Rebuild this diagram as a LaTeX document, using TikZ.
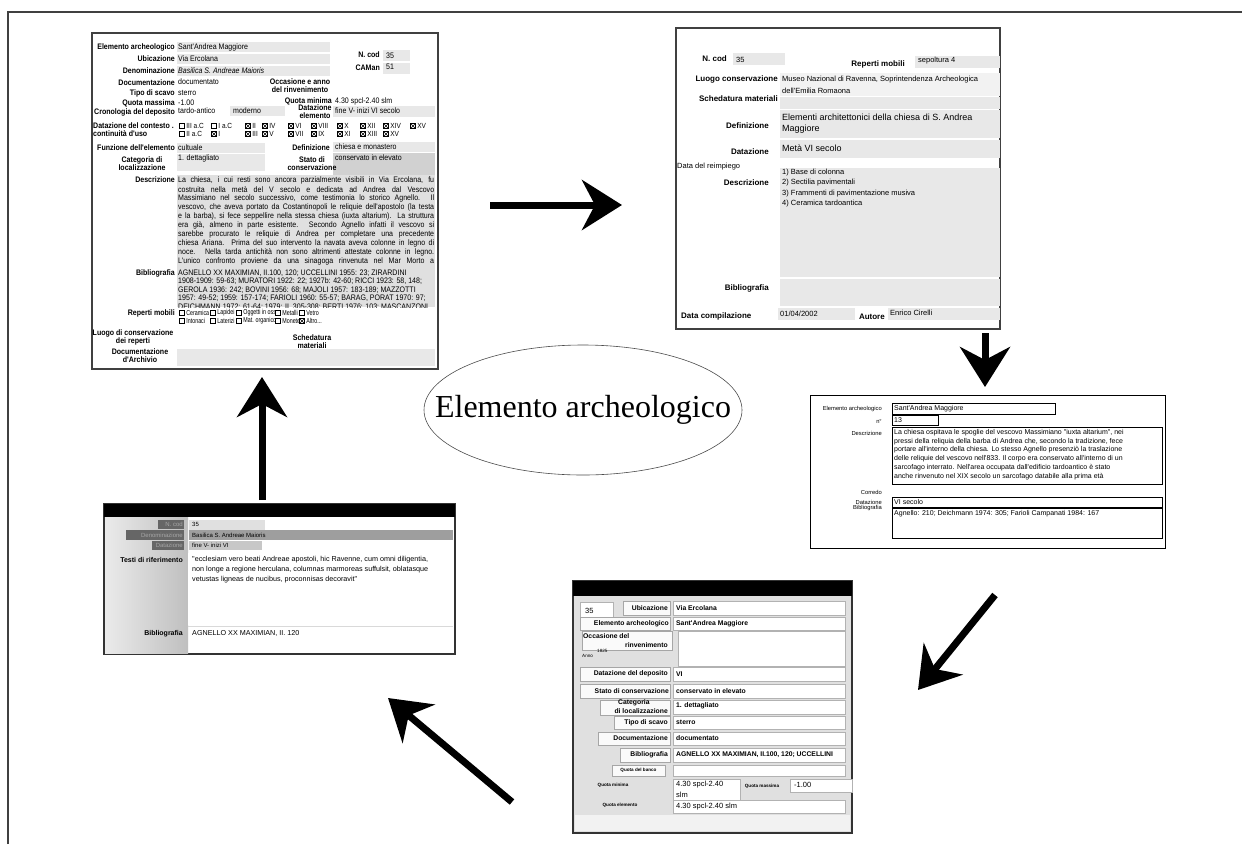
\documentclass[tikz,border=0pt]{standalone}
\usepackage{fontspec}
\setmainfont{Liberation Serif}
\newfontfamily\ar{Liberation Sans}
\newfontfamily\arn[FakeStretch=0.88]{Liberation Sans}
\newfontfamily\arc[FakeStretch=0.74]{Liberation Sans}
\usetikzlibrary{arrows.meta,shapes.geometric}
\newcounter{nn}
\newcommand\T[4][val]{\stepcounter{nn}\node[#1] (t\thenn) at (#2,#3) {#4};}
\newcommand\CB[5][cbl]{\stepcounter{nn}%
  \draw[line width=0.45pt,fill=white] ({#2-2.7},{#3-2.7}) rectangle ({#2+2.7},{#3+2.7});%
  \ifnum#5=1 \draw[line width=0.45pt] ({#2-2.7},{#3-2.7})--({#2+2.7},{#3+2.7}) ({#2-2.7},{#3+2.7})--({#2+2.7},{#3-2.7});\fi
  \node[#1] (t\thenn) at ({#2+4.2},#3) {#4};}
\begin{document}
\begin{tikzpicture}[x=1pt,y=-1pt,
  lbl/.style={anchor=east,inner sep=0pt,font=\arn\bfseries\fontsize{8}{8}\selectfont},
  val/.style={anchor=west,inner sep=0pt,font=\arn\fontsize{8}{8}\selectfont},
  cbl/.style={anchor=west,inner sep=0pt,font=\arc\fontsize{7.2}{7}\selectfont},
  cbk/.style={anchor=west,inner sep=0pt,font=\arn\fontsize{7.4}{7}\selectfont},
  ctr/.style={align=center,inner sep=0pt,font=\arn\bfseries\fontsize{8}{8}\selectfont},
  lblB/.style={anchor=east,inner sep=0pt,font=\ar\bfseries\fontsize{8}{9}\selectfont},
  valB/.style={anchor=west,inner sep=0pt,font=\ar\fontsize{7.5}{9}\selectfont},
  valBB/.style={anchor=west,inner sep=0pt,font=\ar\fontsize{9}{10}\selectfont},
  lblC/.style={anchor=east,inner sep=0pt,font=\ar\fontsize{5.8}{6}\selectfont},
  valC/.style={anchor=west,inner sep=0pt,font=\ar\fontsize{7}{8}\selectfont},
  lblD/.style={anchor=east,inner sep=0pt,font=\ar\bfseries\fontsize{6.8}{8}\selectfont},
  valD/.style={anchor=west,inner sep=0pt,font=\ar\bfseries\fontsize{6.8}{8}\selectfont},
  tinyD/.style={inner sep=0pt,font=\ar\bfseries\fontsize{4.6}{5}\selectfont},
  numD/.style={anchor=west,inner sep=0pt,font=\ar\fontsize{7.5}{9}\selectfont},
  lblE/.style={anchor=east,inner sep=0pt,font=\ar\bfseries\fontsize{7}{8}\selectfont},
  valE/.style={anchor=west,inner sep=0pt,font=\ar\fontsize{7.2}{8}\selectfont},
  monoE/.style={anchor=west,inner sep=0pt,font=\ar\fontsize{6}{7}\selectfont},
  fA/.style={fill=black!9},
  frm/.style={line width=1.8pt,draw=black!75,fill=white},
  btn/.style={fill=black!2,draw=black!35,line width=0.4pt},
  fld/.style={fill=white,draw=black!30,line width=0.4pt},
  box/.style={draw=black,line width=0.6pt},
  big/.style={line width=7pt,-{Stealth[length=40pt,width=50pt,inset=13pt]}}]
\useasboundingbox (0,0) rectangle (1242,844);
\fill[white] (0,0) rectangle (1242,844);
\draw[line width=2pt,black!75] (8,844) -- (8,12) -- (1242,12);

% ================= Form A =================
\draw[frm] (92,33) rectangle (438,369);
\fill[fA] (177,42) rectangle (330,52);
\fill[fA] (177,54) rectangle (330,64);
\fill[fA] (177,66) rectangle (330,76);
\fill[fA] (383,50) rectangle (410,61);
\fill[fA] (383,63) rectangle (410,74);
\fill[fA] (230,106) rectangle (285,116);
\fill[fA] (333,106) rectangle (435,117);
\fill[fA] (177,143) rectangle (265,153);
\fill[fA] (333,142) rectangle (435,152);
\fill[fA] (177,154) rectangle (265,171);
\fill[black!18] (333,153) rectangle (435,175);
\fill[black!12] (177,175) rectangle (435,307);
\fill[fA] (177,349) rectangle (435,366);
\T[lbl]{175}{47}{Elemento archeologico}
\T[lbl]{175}{59}{Ubicazione}
\T[lbl]{175}{71}{Denominazione}
\T[lbl]{175}{83}{Documentazione}
\T[lbl]{175}{93}{Tipo di scavo}
\T[lbl]{175}{103}{Quota massima}
\T[lbl]{175}{112}{Cronologia del deposito}
\T[ctr,anchor=west,align=left]{93}{130}{Datazione del contesto .\\continuità d'uso}
\T[lbl]{175}{148}{Funzione dell'elemento}
\T[ctr]{142}{164}{Categoria di\\localizzazione}
\T[lbl]{175}{180}{Descrizione}
\T[lbl]{175}{273}{Bibliografia}
\T[lbl]{175}{313}{Reperti mobili}
\T[ctr]{133}{337}{Luogo di conservazione\\dei reperti}
\T[ctr]{140}{356}{Documentazione\\d'Archivio}
\T[lbl]{380}{55}{N. cod}
\T[lbl]{380}{68}{CAMan}
\T[val]{386}{56}{35}
\T[val]{386}{67}{51}
\T[ctr]{300}{86}{Occasione e anno\\del rinvenimento}
\T[lbl]{332}{101}{Quota minima}
\T[val]{335}{101}{4.30 spcl-2.40 slm}
\T[ctr]{315}{112}{Datazione\\elemento}
\T[val]{335}{111}{fine V- inizi VI secolo}
\T[lbl]{330}{148}{Definizione}
\T[val]{335}{147}{chiesa e monastero}
\T[ctr]{312}{164}{Stato di\\conservazione}
\T[val]{335}{158}{conservato in elevato}
\T[ctr]{312}{342}{Schedatura\\materiali}
\T{178}{47}{Sant'Andrea Maggiore}
\T{178}{59}{Via Ercolana}
\T{178}{71}{\itshape Basilica S. Andreae Maioris}
\T{178}{82}{documentato}
\T{178}{93}{sterro}
\T{178}{103}{-1.00}
\T{178}{111}{tardo-antico}
\T{233}{111}{moderno}
\T{178}{148}{cultuale}
\T{178}{158}{1. dettagliato}
% checkboxes contesto
\CB[cbk]{182}{126}{III a.C}{0}\CB[cbk]{214}{126}{I a.C}{0}\CB[cbk]{248}{126}{II}{1}\CB[cbk]{265}{126}{IV}{1}
\CB[cbk]{291}{126}{VI}{1}\CB[cbk]{314}{126}{VIII}{1}\CB[cbk]{340}{126}{X}{1}\CB[cbk]{363}{126}{XII}{1}
\CB[cbk]{386}{126}{XIV}{1}\CB[cbk]{413}{126}{XV}{1}
\CB[cbk]{182}{134}{II a.C}{0}\CB[cbk]{214}{134}{I}{1}\CB[cbk]{248}{134}{III}{1}\CB[cbk]{265}{134}{V}{1}
\CB[cbk]{291}{134}{VII}{1}\CB[cbk]{314}{134}{IX}{1}\CB[cbk]{340}{134}{XI}{1}\CB[cbk]{363}{134}{XIII}{1}
\CB[cbk]{386}{134}{XV}{1}
% description
\foreach \yy/\tx [count=\k] in {180/{La chiesa, i cui resti sono ancora parzialmente visibili in Via Ercolana, fu},
 189.1/{costruita nella metà del V secolo e dedicata ad Andrea dal Vescovo},
 198.2/{Massimiano nel secolo successivo, come testimonia lo storico Agnello. Il},
 207.3/{vescovo, che aveva portato da Costantinopoli le reliquie dell'apostolo (la testa},
 216.4/{e la barba), si fece seppellire nella stessa chiesa (iuxta altarium). La struttura},
 225.5/{era già, almeno in parte esistente. Secondo Agnello infatti il vescovo si},
 234.6/{sarebbe procurato le reliquie di Andrea per completare una precedente},
 243.7/{chiesa Ariana. Prima del suo intervento la navata aveva colonne in legno di},
 252.8/{noce. Nella tarda antichità non sono altrimenti attestate colonne in legno.},
 261.9/{L'unico confronto proviene da una sinagoga rinvenuta nel Mar Morto a}}
 {\node[val] (dA\k) at (178,\yy) {\makebox[256pt][s]{\tx}};}
\T{178}{273}{AGNELLO XX MAXIMIAN, II.100, 120; UCCELLINI 1955: 23; ZIRARDINI}
\T{178}{281.5}{1908-1909: 59-63; MURATORI 1922: 22; 1927b: 42-60; RICCI 1923: 58, 148;}
\T{178}{290}{GEROLA 1936: 242; BOVINI 1956: 68; MAJOLI 1957: 183-189; MAZZOTTI}
\T{178}{298.5}{1957: 49-52; 1959: 157-174; FARIOLI 1960: 55-57; BARAG, PORAT 1970: 97;}
\begin{scope}
\clip (177,302) rectangle (435,307);
\T{178}{307}{DEICHMANN 1972: 61-64; 1979: II, 305-308; BERTI 1976: 103; MASCANZONI}
\end{scope}
\CB{182}{313}{Ceramica}{0}\CB{213}{313}{Lapidei}{0}\CB{239}{313}{Oggetti in osso}{0}\CB{278}{313}{Metalli}{0}\CB{302}{313}{Vetro}{0}
\CB{182}{321}{Intonaci}{0}\CB{213}{321}{Laterizi}{0}\CB{239}{321}{Mat. organico}{0}\CB{278}{321}{Monete}{0}\CB{302}{321}{Altro...}{1}

% ================= Form B =================
\draw[frm] (676,28) rectangle (1000,329);
\fill[fA] (733,53) rectangle (785,65);
\fill[fA] (915,56) rectangle (1000,68);
\fill[black!5] (780,73) rectangle (1000,96);
\fill[fA] (780,97) rectangle (1000,109);
\fill[fA] (780,110) rectangle (1000,138);
\fill[fA] (780,140) rectangle (1000,158);
\fill[fA] (780,168) rectangle (1000,277);
\fill[fA] (780,279) rectangle (1000,306);
\fill[fA] (778,308) rectangle (855,320);
\fill[fA] (888,308) rectangle (1000,320);
\T[lblB]{727}{59}{N. cod}
\T[valB]{736}{60}{35}
\T[lblB]{905}{64}{Reperti mobili}
\T[valB]{918}{61}{sepoltura 4}
\T[lblB]{778}{79}{Luogo conservazione}
\T[valB]{782}{80}{Museo Nazional di Ravenna, Soprintendenza Archeologica}
\T[valB]{782}{91}{dell'Emilia Romaona}
\T[lblB]{778}{99}{Schedatura materiali}
\T[lblB]{769}{126}{Definizione}
\T[valBB]{782}{117}{Elementi architettonici della chiesa di S. Andrea}
\T[valBB]{782}{129}{Maggiore}
\T[lblB]{769}{152}{Datazione}
\T[valBB]{782}{148}{Metà VI secolo}
\T[valB,font=\ar\fontsize{7.5}{8}\selectfont]{677}{167}{Data del reimpiego}
\T[lblB]{769}{183}{Descrizione}
\T[valB]{782}{173}{1) Base di colonna}
\T[valB]{782}{183}{2) Sectilia pavimentali}
\T[valB]{782}{193.5}{3) Frammenti di pavimentazione musiva}
\T[valB]{782}{204}{4) Ceramica tardoantica}
\T[lblB]{769}{288}{Bibliografia}
\T[lblB,anchor=west]{681}{316}{Data compilazione}
\T[valB]{780}{314}{01/04/2002}
\T[lblB]{885}{317}{Autore}
\T[valB]{890}{313}{Enrico Cirelli}

% ================= Form C =================
\draw[line width=1pt] (810,395) rectangle (1165,548);
\T[lblC]{882}{409}{Elemento archeologico}
\T[lblC]{882}{421}{n°}
\T[lblC]{882}{433}{Descrizione}
\T[lblC]{882}{492}{Corredo}
\T[lblC]{882}{502}{Datazione}
\T[lblC]{882}{508}{Bibliografia}
\draw[box] (892,403) rectangle (1055,414);
\draw[box] (892,415) rectangle (938,425);
\draw[box] (892,427) rectangle (1162,484);
\draw[box] (892,497) rectangle (1162,507);
\draw[box] (892,508) rectangle (1162,538);
\T[valC]{894}{409}{Sant'Andrea Maggiore}
\T[valC]{894}{420.5}{13}
\T[valC]{894}{432.5}{La chiesa ospitava le spoglie del vescovo Massimiano "iuxta altarium", nei}
\T[valC]{894}{441.2}{pressi della reliquia della barba di Andrea che, secondo la tradizione, fece}
\T[valC]{894}{449.9}{portare all'interno della chiesa. Lo stesso Agnello presenziò la traslazione}
\T[valC]{894}{458.6}{delle reliquie del vescovo nell'833. Il corpo era conservato all'interno di un}
\T[valC]{894}{467.3}{sarcofago interrato. Nell'area occupata dall'edificio tardoantico è stato}
\begin{scope}
\clip (893,471) rectangle (1161,483.6);
\T[valC]{894}{477}{anche rinvenuto nel XIX secolo un sarcofago databile alla prima età}
\end{scope}
\T[valC]{894}{502}{VI secolo}
\T[valC]{894}{514}{Agnello: 210; Deichmann 1974: 305; Farioli Campanati 1984: 167}

% ================= Form D =================
\draw[line width=1.6pt,draw=black!80,fill=black!12] (573,581) rectangle (852,833);
\fill[black!5] (575,815) rectangle (850,831);
\fill[black] (573,581) rectangle (852,596);
\draw[fld] (580,602) rectangle (613,618);
\T[numD]{585}{611}{35}
\draw[btn] (623,601) rectangle (670,615);
\draw[fld] (673,601) rectangle (845,615);
\T[lblD]{668}{608}{Ubicazione}
\T[valD]{676}{608}{Via Ercolana}
\draw[btn] (580,617) rectangle (670,630);
\draw[fld] (673,617) rectangle (845,630);
\T[lblD]{669}{623.5}{Elemento archeologico}
\T[valD]{676}{623.5}{Sant'Andrea Maggiore}
\draw[btn] (582,631) rectangle (672,650);
\draw[fld] (678,631) rectangle (845,666);
\T[valD]{583}{636}{Occasione del}
\T[lblD]{668}{645}{rinvenimento}
\T[tinyD,anchor=west,font=\ar\fontsize{4.6}{5}\selectfont]{582}{656}{Anno}
\T[tinyD,anchor=west,font=\ar\fontsize{4.6}{5}\selectfont]{597}{651}{1825}
\draw[btn] (580,667) rectangle (670,681);
\draw[fld] (673,667) rectangle (845,681);
\T[lblD]{668}{674}{Datazione del deposito}
\T[valD]{676}{674}{VI}
\draw[btn] (580,684) rectangle (670,698);
\draw[fld] (673,684) rectangle (845,698);
\T[lblD]{669}{691}{Stato di conservazione}
\T[valD]{676}{691}{conservato in elevato}
\draw[btn] (600,700) rectangle (670,715);
\draw[fld] (673,700) rectangle (845,714);
\T[valD]{618}{703}{Categoria}
\T[lblD]{668}{711.5}{di localizzazione}
\T[valD]{676}{706}{1. dettagliato}
\draw[btn] (614,716) rectangle (670,729);
\draw[fld] (673,716) rectangle (845,729);
\T[lblD]{668}{722.5}{Tipo di scavo}
\T[valD]{676}{722.5}{sterro}
\draw[btn] (598,732) rectangle (670,745);
\draw[fld] (673,732) rectangle (845,745);
\T[lblD]{668}{738.5}{Documentazione}
\T[valD]{676}{738.5}{documentato}
\draw[btn] (620,748) rectangle (670,762);
\draw[fld] (673,748) rectangle (845,762);
\T[lblD]{668}{755}{Bibliografia}
\T[valD]{676}{755}{AGNELLO XX MAXIMIAN, II.100, 120; UCCELLINI}
\draw[btn] (612,765) rectangle (665,776);
\draw[fld] (673,765) rectangle (845,776);
\T[tinyD]{638.5}{770.5}{Quota del banco}
\draw[fld] (673,779) rectangle (740,800);
\T[tinyD]{613}{785}{Quota minima}
\T[numD]{676}{785}{4.30 spcl-2.40}
\T[numD]{676}{795}{slm}
\T[tinyD]{762}{786}{Quota massima}
\draw[fld] (790,779) rectangle (852,792);
\T[numD]{794}{785}{-1.00}
\T[tinyD]{620}{805}{Quota elemento}
\draw[fld] (673,800) rectangle (845,813);
\T[numD]{676}{806.5}{4.30 spcl-2.40 slm}

% ================= Form E =================
\draw[line width=1.6pt,draw=black!80,fill=white] (104,504) rectangle (455,654);
\shade[left color=black!8,right color=black!25] (105,517) rectangle (188,653);
\fill[black] (104,504) rectangle (455,517);
\fill[black!60] (158,520) rectangle (184,529);
\fill[black!60] (126,530) rectangle (184,540);
\fill[black!60] (152,541) rectangle (184,550);
\fill[black!12] (189,520) rectangle (265,530);
\fill[black!38] (189,530) rectangle (453,540);
\fill[black!22] (189,541) rectangle (262,550);
\fill[white] (188,553) rectangle (453,625);
\draw[black!15,line width=0.5pt] (188,626) -- (453,626);
\T[monoE,anchor=east,text=black!35]{183}{524.5}{N. cod}
\T[monoE,anchor=east,text=black!35]{183}{535}{Denominazione}
\T[monoE,anchor=east,text=black!35]{183}{545.5}{Datazione}
\T[monoE]{192}{524.5}{35}
\T[monoE]{192}{535}{Basilica S. Andreae Maioris}
\T[monoE]{192}{545.5}{fine V- inizi VI}
\T[lblE]{183}{560}{Testi di riferimento}
\T[valE]{192}{560}{"ecclesiam vero beati Andreae apostoli, hic Ravenne, cum omni diligentia,}
\T[valE]{192}{570}{non longe a regione herculana, columnas marmoreas suffulsit, oblatasque}
\T[valE]{192}{580}{vetustas ligneas de nucibus, proconnisas decoravit"}
\T[lblE]{183}{634}{Bibliografia}
\T[valE]{192}{633}{AGNELLO XX MAXIMIAN, II. 120}

% ================= Centre =================
\node[ellipse,draw=black!70,line width=0.6pt,minimum width=318pt,minimum height=130pt,inner sep=0pt] (core) at (583,410) {};
\node[inner sep=0pt,font=\fontsize{32}{36}\selectfont] (coretext) at (core.center) {Elemento archeologico};

% ================= Arrows =================
\coordinate (a1s) at (490,205); \coordinate (a1e) at (622,205);
\coordinate (a2s) at (985,333); \coordinate (a2e) at (985,387);
\coordinate (a3s) at (995,595); \coordinate (a3e) at (918,690);
\coordinate (a4s) at (512,802); \coordinate (a4e) at (388,698);
\coordinate (a5s) at (262,500); \coordinate (a5e) at (262,377);
\draw[big] (a1s) -- (a1e);
\draw[big] (a2s) -- (a2e);
\draw[big] (a3s) -- (a3e);
\draw[big] (a4s) -- (a4e);
\draw[big] (a5s) -- (a5e);
\end{tikzpicture}
\end{document}
